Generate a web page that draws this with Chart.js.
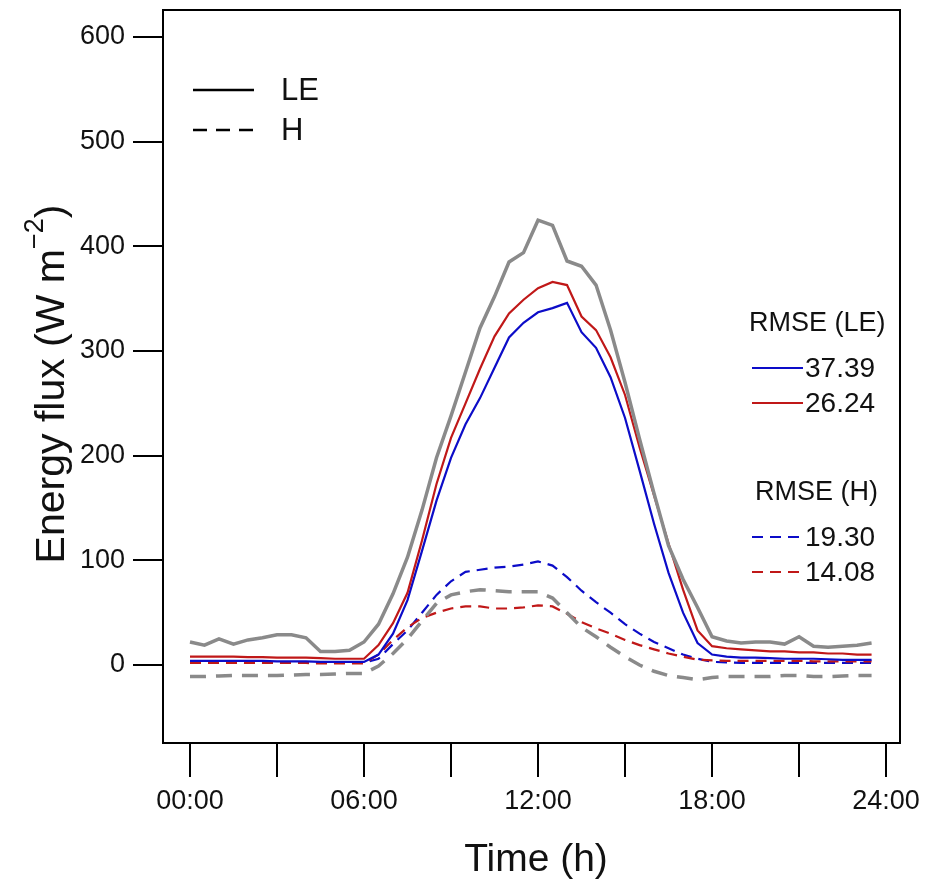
<!DOCTYPE html>
<html>
<head>
<meta charset="utf-8">
<script src="https://cdn.jsdelivr.net/npm/chart.js@4.4.1/dist/chart.umd.min.js"></script>
<style>
  html, body { margin: 0; padding: 0; background: #fff; }
  canvas { display: block; }
</style>
</head>
<body>
<canvas id="fluxChart" width="929" height="887"></canvas>
<script>
// half-hourly time of day (h)
const hours = [
  0, 0.5, 1, 1.5, 2, 2.5, 3, 3.5, 4, 4.5, 5, 5.5,
  6, 6.5, 7, 7.5, 8, 8.5, 9, 9.5, 10, 10.5, 11, 11.5,
  12, 12.5, 13, 13.5, 14, 14.5, 15, 15.5, 16, 16.5, 17, 17.5,
  18, 18.5, 19, 19.5, 20, 20.5, 21, 21.5, 22, 22.5, 23, 23.5
];

// observed LE (grey solid)
const obsLE = [
  22, 19, 25, 20, 24, 26, 29, 29, 26, 13, 13, 14,
  22, 39, 68, 103, 148, 198, 238, 280, 322, 352, 385, 394,
  425, 420, 386, 381, 363, 320, 270, 216, 164, 114, 82, 55,
  27, 23, 21, 22, 22, 20, 27, 18, 17, 18, 19, 21
];
// model LE, RMSE 37.39 (blue solid)
const modLE1 = [
  4, 4, 4, 4, 4, 4, 3.5, 3.5, 3.5, 3, 3, 3,
  3, 10, 30, 62, 109, 157, 198, 230, 255, 284, 313, 327,
  337, 341, 346, 318, 303, 275, 236, 186, 135, 88, 50, 21,
  10, 8, 7, 7, 6.5, 6, 6, 6, 5.5, 5, 5, 5
];
// model LE, RMSE 26.24 (red solid)
const modLE2 = [
  8, 8, 8, 8, 7.5, 7.5, 7, 7, 7, 6.5, 6, 6,
  6, 19, 40, 69, 119, 173, 217, 250, 283, 314, 336, 349,
  360, 366, 363, 333, 320, 294, 258, 208, 162, 116, 72, 33,
  18, 16, 15, 14, 13, 13, 12, 12, 11, 11, 10, 10
];
// observed H (grey dashed)
const obsH = [
  -11, -11, -10.5, -10, -10, -10, -10, -9.5, -9, -9, -8.5, -8,
  -8, -1, 11, 25, 42, 59, 67, 70, 72, 71, 70, 70,
  70, 64, 50, 36, 27, 17, 8, 0, -6, -10, -12, -14,
  -12, -11, -11, -11, -11, -10, -10, -11, -11, -10.5, -10, -10
];
// model H, RMSE 19.30 (blue dashed)
const modH1 = [
  2.5, 2.5, 2.5, 2.5, 2, 2, 2, 2, 2, 2, 2, 2,
  2, 6, 20, 33, 50, 67, 80, 89, 91, 93, 94, 96,
  99, 95, 84, 71, 60, 50, 39, 30, 22, 16, 10, 6,
  3, 2.5, 2, 2, 2, 2, 2, 2, 2, 2, 2, 2
];
// model H, RMSE 14.08 (red dashed)
const modH2 = [
  2, 2, 2, 2, 2, 2, 2, 2, 2, 1.5, 1.5, 1.5,
  1.5, 10, 24, 36, 45, 50, 54, 56, 56, 54, 54, 55,
  57, 56, 49, 41, 35, 30, 24, 19, 15, 11, 8, 5,
  4.5, 4, 4, 4, 4, 4, 4, 3.5, 3.5, 3.5, 3.5, 3.5
];

const xTicks = [0, 3, 6, 9, 12, 15, 18, 21, 24];
const xTickLabels = ["00:00", "", "06:00", "", "12:00", "", "18:00", "", "24:00"];
const yTicks = [0, 100, 200, 300, 400, 500, 600];
const rmseLE = ["37.39", "26.24"];
const rmseH = ["19.30", "14.08"];

const GREY = "#8a8a8a";
const BLUE = "#0c0cc8";
const RED = "#c01818";
const FONT = "'Liberation Sans', Arial, sans-serif";

function pts(values) {
  return hours.map((h, i) => ({ x: h, y: values[i] }));
}

function series(values, color, width, dash) {
  return {
    data: pts(values),
    borderColor: color,
    borderWidth: width,
    borderDash: dash,
    pointRadius: 0,
    tension: 0,
    fill: false,
  };
}

// frame, axis titles and the two legend blocks
const decorations = {
  id: "decorations",
  afterDraw(chart) {
    const ctx = chart.ctx;
    const a = chart.chartArea;
    ctx.save();
    ctx.strokeStyle = "#000";
    ctx.lineWidth = 2;
    ctx.setLineDash([]);
    ctx.strokeRect(a.left, a.top, a.right - a.left, a.bottom - a.top);

    ctx.fillStyle = "#111";
    ctx.textBaseline = "middle";

    // x title
    ctx.font = "39px " + FONT;
    ctx.textAlign = "center";
    ctx.fillText("Time (h)", 536, 860);

    // y title with superscript
    ctx.save();
    ctx.translate(50, 384);
    ctx.rotate(-Math.PI / 2);
    ctx.textAlign = "left";
    ctx.textBaseline = "alphabetic";
    const main = "Energy flux (W m";
    ctx.font = "41px " + FONT;
    const w1 = ctx.measureText(main).width;
    ctx.font = "27px " + FONT;
    const sup = "\u22122";
    const w2 = ctx.measureText(sup).width;
    ctx.font = "41px " + FONT;
    const w3 = ctx.measureText(")").width;
    const total = w1 + w2 + w3;
    const x0 = -total / 2;
    ctx.fillText(main, x0, 14);
    ctx.font = "27px " + FONT;
    ctx.fillText(sup, x0 + w1, -7);
    ctx.font = "41px " + FONT;
    ctx.fillText(")", x0 + w1 + w2, 14);
    ctx.restore();

    // LE / H legend
    ctx.strokeStyle = "#000";
    ctx.lineWidth = 2.5;
    ctx.beginPath();
    ctx.moveTo(193, 90); ctx.lineTo(254, 90);
    ctx.stroke();
    ctx.setLineDash([14, 9]);
    ctx.beginPath();
    ctx.moveTo(193, 130); ctx.lineTo(254, 130);
    ctx.stroke();
    ctx.setLineDash([]);
    ctx.font = "31px " + FONT;
    ctx.textAlign = "left";
    ctx.fillText("LE", 281, 91);
    ctx.fillText("H", 281, 131);

    // RMSE legends
    ctx.font = "27px " + FONT;
    ctx.fillText("RMSE (LE)", 749, 324);
    ctx.fillText("RMSE (H)", 755, 493);
    const rows = [
      { y: 368, color: BLUE, dash: [], text: rmseLE[0] },
      { y: 403, color: RED, dash: [], text: rmseLE[1] },
      { y: 537, color: BLUE, dash: [11, 7], text: rmseH[0] },
      { y: 572, color: RED, dash: [11, 7], text: rmseH[1] },
    ];
    ctx.font = "28px " + FONT;
    rows.forEach((r) => {
      ctx.strokeStyle = r.color;
      ctx.lineWidth = 2.2;
      ctx.setLineDash(r.dash);
      ctx.beginPath();
      ctx.moveTo(752, r.y); ctx.lineTo(803, r.y);
      ctx.stroke();
      ctx.fillText(r.text, 805, r.y + 1);
    });
    ctx.restore();
  },
};

const ctx = document.getElementById("fluxChart").getContext("2d");
const chart = new Chart(ctx, {
  type: "line",
  data: {
    datasets: [
      series(obsLE, GREY, 3.5, []),
      series(obsH, GREY, 3.5, [16, 10]),
      series(modLE2, RED, 2.2, []),
      series(modLE1, BLUE, 2.2, []),
      series(modH2, RED, 2.2, [11, 7]),
      series(modH1, BLUE, 2.2, [11, 7]),
    ],
  },
  options: {
    responsive: false,
    animation: false,
    devicePixelRatio: 1,
    layout: { padding: { top: 10, right: 29, left: 0, bottom: 0 } },
    plugins: { legend: { display: false }, tooltip: { enabled: false } },
    scales: {
      x: {
        type: "linear",
        min: -0.93,
        max: 24.48,
        border: { display: false },
        grid: {
          drawOnChartArea: false,
          drawTicks: true,
          tickLength: 34,
          color: "#000",
          lineWidth: 2,
        },
        afterBuildTicks: (s) => {
          s.ticks = xTicks.map((v) => ({ value: v }));
        },
        ticks: {
          autoSkip: false,
          maxRotation: 0,
          padding: 8,
          color: "#111",
          font: { family: FONT, size: 27 },
          callback: (v) => xTickLabels[xTicks.indexOf(v)],
        },
        afterFit: (s) => {
          s.height = 144;
          s.paddingLeft = 0;
          s.paddingRight = 0;
        },
      },
      y: {
        min: -74.5,
        max: 625.8,
        border: { display: false },
        grid: {
          drawOnChartArea: false,
          drawTicks: true,
          tickLength: 30,
          color: "#000",
          lineWidth: 2,
        },
        afterBuildTicks: (s) => {
          s.ticks = yTicks.map((v) => ({ value: v }));
        },
        ticks: {
          padding: 8,
          color: "#111",
          font: { family: FONT, size: 27 },
        },
        afterFit: (s) => {
          s.width = 163;
          s.paddingTop = 0;
          s.paddingBottom = 0;
        },
      },
    },
  },
  plugins: [decorations],
});
</script>
</body>
</html>
